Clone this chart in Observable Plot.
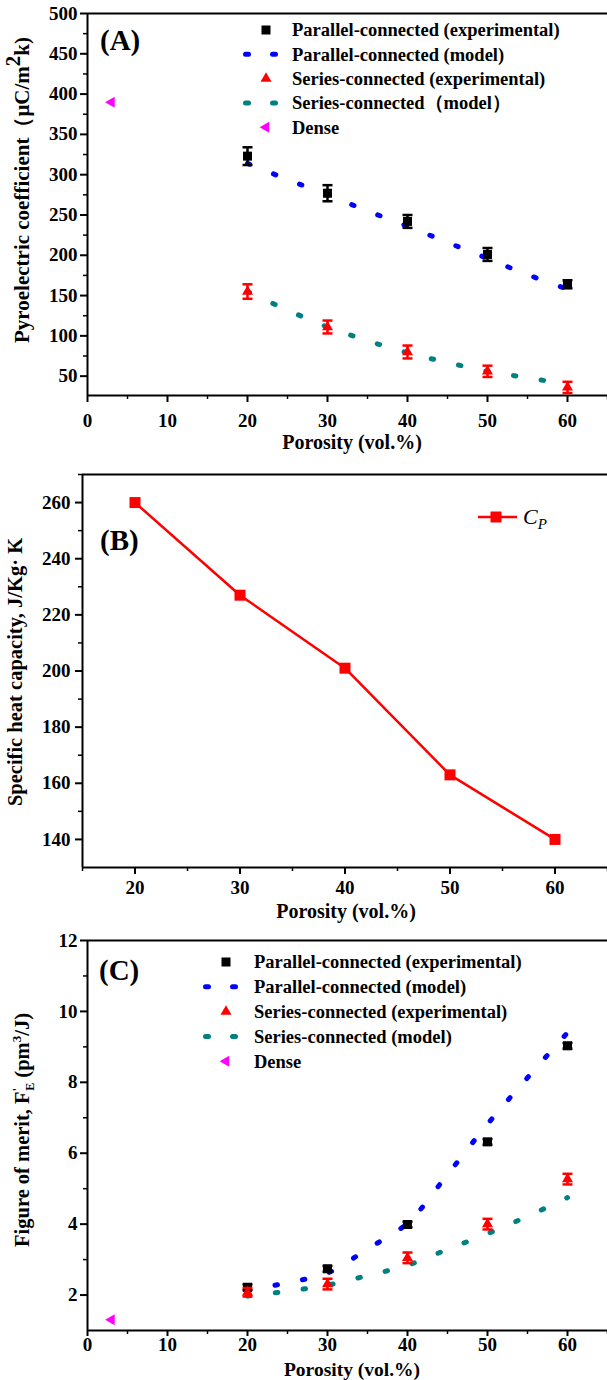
<!DOCTYPE html>
<html><head><meta charset="utf-8">
<script src="https://cdn.jsdelivr.net/npm/d3@7"></script>
<script src="https://cdn.jsdelivr.net/npm/@observablehq/plot@0.6"></script>
<style>
body{margin:0;background:#fff;}
#wrap{width:607px;}
#wrap svg{display:block;}
</style></head><body><div id="wrap"></div>
<script>
// ---------- DATA ----------
const porosity = [20, 30, 40, 50, 60];
const modelPorosity = [20, 25, 30, 35, 40, 45, 50, 55, 60];
const densePorosity = [3];

// (A) Pyroelectric coefficient
const pyroParallelExp = [323, 277, 242, 201, 164];
const pyroParallelErr = [11, 10, 8, 8, 5];
const pyroSeriesExp = [155, 111, 80, 56, 36];
const pyroSeriesErr = [9, 8, 8, 7, 7];
const pyroParallelModel = [314, 294, 275, 255, 236, 216, 196, 176, 158];
const pyroSeriesModel = [155, 132, 111, 94, 79, 67, 56, 48, 40];
const pyroDense = [390];

// (B) Specific heat capacity
const heatCapacity = [260, 227, 201, 163, 140];

// (C) Figure of merit
const fomParallelExp = [2.22, 2.74, 3.99, 6.32, 9.03];
const fomParallelErr = [0.08, 0.08, 0.08, 0.08, 0.08];
const fomSeriesExp = [2.08, 2.31, 3.05, 4.0, 5.27];
const fomSeriesErr = [0.12, 0.15, 0.15, 0.15, 0.15];
const fomParallelModel = [2.12, 2.35, 2.62, 3.3, 4.03, 5.4, 6.82, 8.13, 9.4];
const fomSeriesModel = [1.97, 2.11, 2.28, 2.55, 2.84, 3.29, 3.73, 4.22, 4.75];
const fomDense = [1.3];

// ticks
const xTicksAC = [0, 10, 20, 30, 40, 50, 60];
const xMinorAC = [5, 15, 25, 35, 45, 55, 65];
const yTicksA = [50, 100, 150, 200, 250, 300, 350, 400, 450, 500];
const yMinorA = [75, 125, 175, 225, 275, 325, 375, 425, 475];
const xTicksB = [20, 30, 40, 50, 60];
const xMinorB = [15, 25, 35, 45, 55, 65];
const yTicksB = [140, 160, 180, 200, 220, 240, 260];
const yMinorB = [150, 170, 190, 210, 230, 250, 270];
const yTicksC = [2, 4, 6, 8, 10, 12];
const yMinorC = [3, 5, 7, 9, 11];

// labels
const legendA = ["Parallel-connected (experimental)", "Parallel-connected (model)", "Series-connected (experimental)", "Series-connected\uFF08model\uFF09", "Dense"];
const legendC = ["Parallel-connected (experimental)", "Parallel-connected (model)", "Series-connected (experimental)", "Series-connected (model)", "Dense"];
const xTitle = "Porosity (vol.%)";

// ---------- STYLE ----------
const FONT = "'Liberation Serif','Times New Roman',serif";
const BLUE = "#0000ff", TEAL = "#008080", RED = "#ff0000", MAG = "#ff00ff";
const TICK_FS = 19, LEG_FS = 18.5;

const fixedSym = f => ({draw(ctx) { f(ctx); }});
const sqSym = s => fixedSym(c => { c.rect(-s / 2, -s / 2, s, s); });
const triUp = s => fixedSym(c => { const h = s * Math.sqrt(3) / 2; c.moveTo(0, -2 * h / 3); c.lineTo(s / 2, h / 3); c.lineTo(-s / 2, h / 3); c.closePath(); });
const triLeft = s => fixedSym(c => { const h = s * Math.sqrt(3) / 2; c.moveTo(-2 * h / 3, 0); c.lineTo(h / 3, -s / 2); c.lineTo(h / 3, s / 2); c.closePath(); });
const hBar = w => fixedSym(c => { c.moveTo(-w / 2, 0); c.lineTo(w / 2, 0); });

const rows = (xs, ys, es) => xs.map((x, i) => ({x, y: ys[i], e: es ? es[i] : 0}));

function axes(o) {
  const ts = o.tickSize || 7;
  return [
    Plot.axisX({ticks: o.xTicks, tickSize: ts, tickPadding: o.xPad, strokeWidth: 2, fontSize: TICK_FS, fontWeight: "bold", fontFamily: FONT, label: null, tickFormat: d => String(d)}),
    Plot.axisX({ticks: o.xMinor, tickSize: 4, strokeWidth: 1.5, label: null, tickFormat: () => ""}),
    Plot.axisY({ticks: o.yTicks, tickSize: 7, tickPadding: o.yPad, strokeWidth: 2, fontSize: TICK_FS, fontWeight: "bold", fontFamily: FONT, label: null, tickFormat: d => String(d)}),
    Plot.axisY({ticks: o.yMinor, tickSize: 4, strokeWidth: 1.5, label: null, tickFormat: () => ""}),
    Plot.ruleX([o.xDomain[0]], {stroke: "black", strokeWidth: 2}),
    Plot.ruleY([o.yDomain[0]], {stroke: "black", strokeWidth: 2}),
    Plot.ruleY([o.yDomain[1]], {stroke: "black", strokeWidth: 2})
  ];
}

function errorMarks(data, color) {
  return [
    Plot.ruleX(data, {x: "x", y1: d => d.y - d.e, y2: d => d.y + d.e, stroke: color, strokeWidth: 2.5}),
    Plot.dot(data, {x: "x", y: d => d.y + d.e, r: 4, symbol: hBar(10), fill: "none", stroke: color, strokeWidth: 2.5}),
    Plot.dot(data, {x: "x", y: d => d.y - d.e, r: 4, symbol: hBar(10), fill: "none", stroke: color, strokeWidth: 2.5})
  ];
}

function modelLine(data, color) {
  return Plot.line(data, {x: "x", y: "y", stroke: color, strokeWidth: 5, strokeDasharray: "2.5,25.5", strokeLinecap: "round", curve: "catmull-rom"});
}

function txt(sel, x, y, s, size, opts = {}) {
  const t = sel.append("text").attr("x", x).attr("y", y)
    .style("font-family", FONT).style("font-weight", opts.weight || "bold")
    .style("font-size", size + "px").attr("fill", "black")
    .attr("text-anchor", opts.anchor || "start");
  if (opts.style) t.style("font-style", opts.style);
  if (s != null) t.text(s);
  return t;
}

function drawLegend(sel, labels, kinds, mx, tx, y0, dy) {
  labels.forEach((lab, i) => {
    const y = y0 + i * dy, k = kinds[i];
    if (k.type === "dash") {
      [-19, 8].forEach(o => sel.append("line").attr("x1", mx + o - 1.5).attr("x2", mx + o + 1.5)
        .attr("y1", y).attr("y2", y).attr("stroke", k.color).attr("stroke-width", 5).attr("stroke-linecap", "round"));
    } else {
      const p = d3.path(); k.sym.draw(p);
      sel.append("path").attr("d", p.toString()).attr("transform", `translate(${mx},${y})`).attr("fill", k.color);
    }
    txt(sel, tx, y, lab, LEG_FS).attr("dy", "0.35em");
  });
}

const wrap = document.getElementById("wrap");
const baseStyle = {fontFamily: FONT, fontWeight: "bold", background: "white", color: "black", overflow: "visible"};

// ---------- (A) ----------
{
  const xD = [0, 65], yD = [26, 500];
  const pe = rows(porosity, pyroParallelExp, pyroParallelErr);
  const se = rows(porosity, pyroSeriesExp, pyroSeriesErr);
  const svg = Plot.plot({
    width: 607, height: 460, marginTop: 13, marginBottom: 65, marginLeft: 87, marginRight: 0,
    style: baseStyle,
    x: {domain: xD}, y: {domain: yD},
    marks: [
      ...axes({xTicks: xTicksAC, xMinor: xMinorAC, yTicks: yTicksA, yMinor: yMinorA, xPad: 11, yPad: 3, xDomain: xD, yDomain: yD}),
      modelLine(rows(modelPorosity, pyroParallelModel), BLUE),
      modelLine(rows(modelPorosity, pyroSeriesModel), TEAL),
      ...errorMarks(pe, "black"),
      Plot.dot(pe, {x: "x", y: "y", r: 5, symbol: sqSym(9), fill: "black", stroke: "none"}),
      ...errorMarks(se, RED),
      Plot.dot(se, {x: "x", y: "y", r: 5, symbol: triUp(11), fill: RED, stroke: "none"}),
      Plot.dot(rows(densePorosity, pyroDense), {x: "x", y: "y", r: 5, symbol: triLeft(11), fill: MAG, stroke: "none"})
    ]
  });
  const s = d3.select(svg);
  txt(s, 100, 50, "(A)", 29);
  drawLegend(s, legendA, [
    {sym: sqSym(9), color: "black"}, {type: "dash", color: BLUE}, {sym: triUp(11), color: RED},
    {type: "dash", color: TEAL}, {sym: triLeft(11), color: MAG}], 266, 292, 30, 24.3);
  txt(s, 352, 449, xTitle, 20, {anchor: "middle"});
  const yt = txt(s, 0, 7, null, 21, {anchor: "middle"}).attr("transform", "translate(22,190) rotate(-90)");
  yt.append("tspan").text("Pyroelectric coefficient\uFF08\u03BCC/m");
  yt.append("tspan").attr("dy", -9).text("2");
  yt.append("tspan").attr("dy", 9).text("k)");
  wrap.appendChild(svg);
}

// ---------- (B) ----------
{
  const xD = [15, 65], yD = [130, 270];
  const d = rows(porosity, heatCapacity);
  const svg = Plot.plot({
    width: 607, height: 460, marginTop: 14, marginBottom: 53, marginLeft: 82, marginRight: 0,
    style: baseStyle,
    x: {domain: xD}, y: {domain: yD},
    marks: [
      ...axes({xTicks: xTicksB, xMinor: xMinorB, yTicks: yTicksB, yMinor: yMinorB, xPad: 6, yPad: 5, xDomain: xD, yDomain: yD}),
      Plot.line(d, {x: "x", y: "y", stroke: RED, strokeWidth: 2.5}),
      Plot.dot(d, {x: "x", y: "y", r: 5, symbol: sqSym(11), fill: RED, stroke: "none"})
    ]
  });
  const s = d3.select(svg);
  txt(s, 100, 90, "(B)", 29);
  s.append("line").attr("x1", 478).attr("x2", 517).attr("y1", 57).attr("y2", 57).attr("stroke", RED).attr("stroke-width", 2.5);
  { const p = d3.path(); sqSym(11).draw(p); s.append("path").attr("d", p.toString()).attr("transform", "translate(496,57)").attr("fill", RED); }
  const cp = txt(s, 523, 64, null, 22, {weight: "normal", style: "italic"});
  cp.append("tspan").text("C");
  cp.append("tspan").attr("dy", 5).style("font-size", "15px").text("P");
  txt(s, 346, 458, xTitle, 20, {anchor: "middle"});
  txt(s, 0, 7, "Specific heat capacity, J/Kg\u00B7 K", 20.5, {anchor: "middle"}).attr("transform", "translate(15,212) rotate(-90)");
  wrap.appendChild(svg);
}

// ---------- (C) ----------
{
  const xD = [0, 65], yD = [1, 12];
  const pe = rows(porosity, fomParallelExp, fomParallelErr);
  const se = rows(porosity, fomSeriesExp, fomSeriesErr);
  const svg = Plot.plot({
    width: 607, height: 460, marginTop: 20, marginBottom: 50, marginLeft: 87, marginRight: 0,
    style: baseStyle,
    x: {domain: xD}, y: {domain: yD},
    marks: [
      ...axes({xTicks: xTicksAC, xMinor: xMinorAC, yTicks: yTicksC, yMinor: yMinorC, xPad: 1, yPad: 3, tickSize: 6, xDomain: xD, yDomain: yD}),
      modelLine(rows(modelPorosity, fomParallelModel), BLUE),
      modelLine(rows(modelPorosity, fomSeriesModel), TEAL),
      ...errorMarks(pe, "black"),
      Plot.dot(pe, {x: "x", y: "y", r: 5, symbol: sqSym(9), fill: "black", stroke: "none"}),
      ...errorMarks(se, RED),
      Plot.dot(se, {x: "x", y: "y", r: 5, symbol: triUp(11), fill: RED, stroke: "none"}),
      Plot.dot(rows(densePorosity, fomDense), {x: "x", y: "y", r: 5, symbol: triLeft(11), fill: MAG, stroke: "none"})
    ]
  });
  const s = d3.select(svg);
  txt(s, 99, 60, "(C)", 29);
  drawLegend(s, legendC, [
    {sym: sqSym(9), color: "black"}, {type: "dash", color: BLUE}, {sym: triUp(11), color: RED},
    {type: "dash", color: TEAL}, {sym: triLeft(11), color: MAG}], 226, 254, 42, 24.8);
  txt(s, 352, 456, xTitle, 19.5, {anchor: "middle"});
  const yt = txt(s, 0, 7, null, 20.5, {anchor: "middle"}).attr("transform", "translate(22,210) rotate(-90)");
  yt.append("tspan").text("Figure of merit, F");
  yt.append("tspan").attr("dy", -8).style("font-size", "13px").text("'");
  yt.append("tspan").attr("dx", -3).attr("dy", 13).style("font-size", "12px").text("E");
  yt.append("tspan").attr("dy", -5).text(" (pm");
  yt.append("tspan").attr("dy", -8).style("font-size", "13px").text("3");
  yt.append("tspan").attr("dy", 8).text("/J)");
  wrap.appendChild(svg);
}
</script></body></html>
